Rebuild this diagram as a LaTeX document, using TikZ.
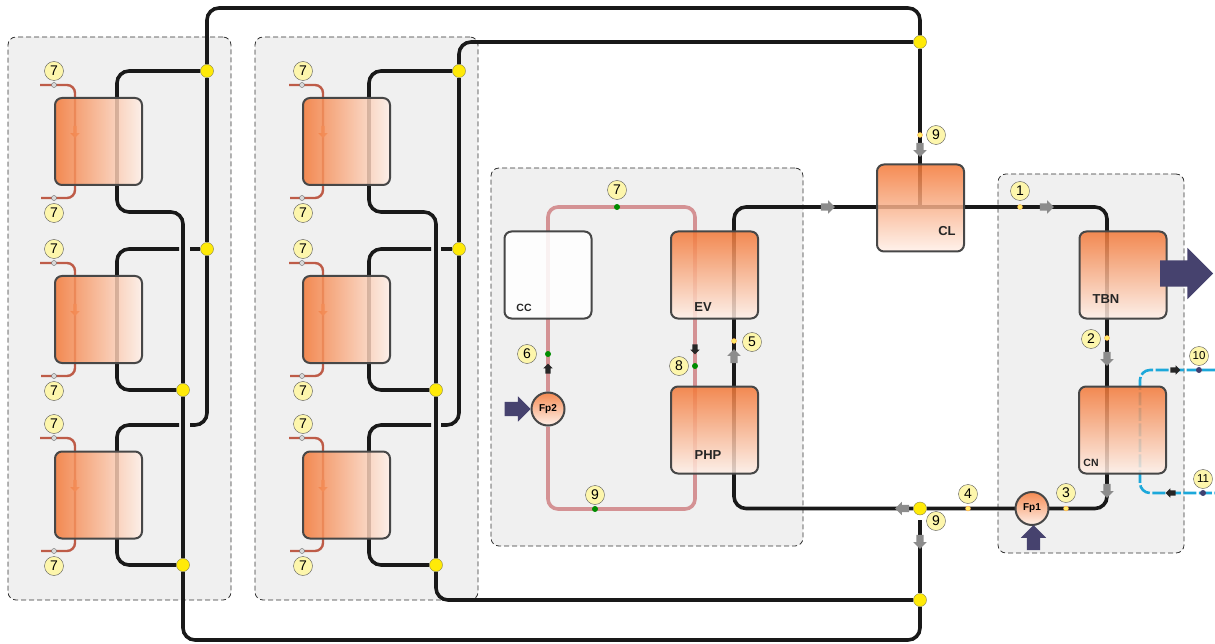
\documentclass[tikz,border=0pt]{standalone}
\usepackage{fontspec}
\setmainfont{Liberation Sans}
\usetikzlibrary{shapes.arrows}
\pgfdeclarelayer{back}
\pgfdeclarelayer{pipes}
\pgfsetlayers{back,pipes,main}
\definecolor{hot}{RGB}{243,118,52}
\definecolor{pale}{RGB}{255,240,232}
\definecolor{tagfill}{RGB}{253,246,172}
\definecolor{power}{RGB}{70,66,110}
\definecolor{coolant}{RGB}{190,92,72}
\definecolor{looprose}{RGB}{212,146,148}
\definecolor{wat}{RGB}{28,168,218}
\definecolor{jny}{RGB}{255,234,8}
\begin{document}
\begin{tikzpicture}[
		x=1pt, y=-1pt,
		grp/.style={rectangle, draw=black!80, fill=black!6, line width=0.8pt, dash pattern=on 5pt off 3pt, rounded corners=8pt},
		hx/.style={rectangle, draw=black!72, line width=2pt, rounded corners=7pt, fill opacity=0.84, text opacity=1, minimum width=87pt, minimum height=87pt},
		hxh/.style={hx, left color=hot, right color=pale},
		hxv/.style={hx, top color=hot, bottom color=pale},
		cc/.style={hx, fill=white, fill opacity=0.88},
		fp/.style={circle, draw=black!72, line width=2pt, top color=hot!85, bottom color=pale, minimum size=33pt, inner sep=0pt, font=\fontsize{10}{10}\selectfont\bfseries},
		jn/.style={circle, draw=black!55!yellow, fill=jny, minimum size=13pt, inner sep=0pt},
		tag/.style={circle, draw=black!65, fill=tagfill, minimum size=19pt, inner sep=0pt, font=\fontsize{14}{14}\selectfont},
		tagb/.style={tag, font=\fontsize{11.5}{11.5}\selectfont},
		sp/.style={circle, draw=orange!70, fill=orange!25!yellow!60, minimum size=5pt, inner sep=0pt},
		gp/.style={circle, fill=green!55!black, minimum size=6pt, inner sep=0pt},
		wp/.style={circle, draw=black!60, fill=white!85!black, minimum size=5pt, inner sep=0pt},
		bp/.style={circle, fill=blue!25!black!75, minimum size=6pt, inner sep=0pt},
		t/.style={inner sep=0pt, font=\fontsize{13}{13}\selectfont\bfseries, text=black!85},
		ts/.style={t, font=\fontsize{10.5}{10.5}\selectfont\bfseries},
		pipe/.style={draw=black!90, line width=3.6pt, rounded corners=12pt},
		cool/.style={draw=coolant, line width=2.4pt, rounded corners=8pt},
		loopl/.style={draw=looprose, line width=3.6pt, rounded corners=10pt},
		water/.style={draw=wat, line width=2.6pt, rounded corners=10pt, dash pattern=on 13pt off 2.5pt},
		ga/.style={single arrow, fill=black!45, draw=none, minimum height=14pt, inner xsep=0pt, inner ysep=3.5pt, single arrow head extend=3pt},
		ka/.style={single arrow, fill=black!85, draw=none, minimum height=10pt, inner xsep=0pt, inner ysep=2.5pt, single arrow head extend=2pt},
		ca/.style={single arrow, fill=hot!80!coolant, draw=none, minimum height=12pt, inner xsep=0pt, inner ysep=1.5pt, single arrow head extend=3pt},
		pw/.style={single arrow, fill=power, draw=none, inner xsep=0pt},
		]
		
		\useasboundingbox (0, 0) rectangle (1215, 644);
		
		%Groups
		\begin{pgfonlayer}{back}
		\node[grp, minimum width=223pt, minimum height=563pt]	(g1)	at	(119.5, 318.5)	{};
		\node[grp, minimum width=223pt, minimum height=563pt]	(g2)	at	(366.5, 318.5)	{};
		\node[grp, minimum width=312pt, minimum height=378pt]	(g3)	at	(647, 357)		{};
		\node[grp, minimum width=186pt, minimum height=379pt]	(g4)	at	(1091, 363.5)	{};
		\end{pgfonlayer}
		
		%Exchangers
		\node[hxh]	(a1)	at	(98.5, 141.5)	{};
		\node[hxh]	(a2)	at	(98.5, 319.5)	{};
		\node[hxh]	(a3)	at	(98.5, 495)		{};
		\node[hxh]	(b1)	at	(346.5, 141.5)	{};
		\node[hxh]	(b2)	at	(346.5, 319.5)	{};
		\node[hxh]	(b3)	at	(346.5, 495)	{};
		\node[cc]	(cc)	at	(548, 275)		{};
		\node[hxv]	(ev)	at	(714.5, 275)	{};
		\node[hxv]	(php)	at	(714.5, 430)	{};
		\node[hxv]	(cl)	at	(920.5, 208)	{};
		\node[hxv]	(tbn)	at	(1123, 275)		{};
		\node[hxv]	(cn)	at	(1122.5, 430)	{};
		\node[ts]	(lcc)	at	(524, 308)		{CC};
		\node[t]	(lev)	at	(703, 307)		{EV};
		\node[t]	(lphp)	at	(708, 455)		{PHP};
		\node[t]	(lcl)	at	(947, 231)		{CL};
		\node[t]	(ltbn)	at	(1106, 299)		{TBN};
		\node[ts]	(lcn)	at	(1091, 463)		{CN};
		
		%Pumps
		\node[fp]	(fp1)	at	(1032, 508.5)	{Fp1};
		\node[fp]	(fp2)	at	(548, 409)		{Fp2};
		
		%Junctions
		\node[jn]	(j1)	at	(207, 71)		{};
		\node[jn]	(j2)	at	(207, 249)		{};
		\node[jn]	(j3)	at	(183, 390)		{};
		\node[jn]	(j4)	at	(183, 565)		{};
		\node[jn]	(j5)	at	(459, 71)		{};
		\node[jn]	(j6)	at	(459, 249)		{};
		\node[jn]	(j7)	at	(436, 390)		{};
		\node[jn]	(j8)	at	(436, 565)		{};
		\node[jn]	(j9)	at	(920, 42)		{};
		\node[jn]	(j10)	at	(920, 600)		{};
		\node[jn]	(j11)	at	(920, 508.5)	{};
		
		%Bends
		\coordinate	(t1)	at	(207, 8);
		\coordinate	(t2)	at	(920, 8);
		\coordinate	(u1)	at	(183, 640);
		\coordinate	(u2)	at	(920, 640);
		\coordinate	(a1t)	at	(117, 71);
		\coordinate	(a1b)	at	(117, 212);
		\coordinate	(a1r)	at	(183, 212);
		\coordinate	(a2g)	at	(179, 249);
		\coordinate	(a2h)	at	(190, 249);
		\coordinate	(a2t)	at	(117, 249);
		\coordinate	(a2b)	at	(117, 390);
		\coordinate	(a3c)	at	(207, 425);
		\coordinate	(a3g)	at	(179, 425);
		\coordinate	(a3h)	at	(190, 425);
		\coordinate	(a3t)	at	(117, 425);
		\coordinate	(a3b)	at	(117, 565);
		\coordinate	(v1)	at	(459, 42);
		\coordinate	(v2)	at	(436, 600);
		\coordinate	(b1t)	at	(369, 71);
		\coordinate	(b1b)	at	(369, 212);
		\coordinate	(b1r)	at	(436, 212);
		\coordinate	(b2g)	at	(431, 249);
		\coordinate	(b2h)	at	(441, 249);
		\coordinate	(b2t)	at	(369, 249);
		\coordinate	(b2b)	at	(369, 390);
		\coordinate	(b3c)	at	(459, 425);
		\coordinate	(b3g)	at	(431, 425);
		\coordinate	(b3h)	at	(441, 425);
		\coordinate	(b3t)	at	(369, 425);
		\coordinate	(b3b)	at	(369, 565);
		\coordinate	(m1)	at	(734, 508.5);
		\coordinate	(m2)	at	(734, 207);
		\coordinate	(m3)	at	(1107, 207);
		\coordinate	(m4)	at	(1107, 508.5);
		\coordinate	(cli)	at	(920, 207);
		\coordinate	(gap)	at	(920, 520);
		\coordinate	(l1)	at	(548, 207);
		\coordinate	(l2)	at	(695, 207);
		\coordinate	(l3)	at	(695, 509);
		\coordinate	(l4)	at	(548, 509);
		\coordinate	(w0)	at	(1215, 370);
		\coordinate	(w1)	at	(1140, 370);
		\coordinate	(w2)	at	(1140, 493);
		\coordinate	(w3)	at	(1215, 493);
		
		\coordinate	(c1s)	at	(40, 85);
		\coordinate	(c1t)	at	(75, 85);
		\coordinate	(c1b)	at	(75, 198);
		\coordinate	(c1e)	at	(41, 198);
		\coordinate	(c2s)	at	(40, 263);
		\coordinate	(c2t)	at	(75, 263);
		\coordinate	(c2b)	at	(75, 376);
		\coordinate	(c2e)	at	(41, 376);
		\coordinate	(c3s)	at	(40, 438);
		\coordinate	(c3t)	at	(75, 438);
		\coordinate	(c3b)	at	(75, 551);
		\coordinate	(c3e)	at	(41, 551);
		\coordinate	(d1s)	at	(289, 85);
		\coordinate	(d1t)	at	(323, 85);
		\coordinate	(d1b)	at	(323, 198);
		\coordinate	(d1e)	at	(290, 198);
		\coordinate	(d2s)	at	(289, 263);
		\coordinate	(d2t)	at	(323, 263);
		\coordinate	(d2b)	at	(323, 376);
		\coordinate	(d2e)	at	(290, 376);
		\coordinate	(d3s)	at	(289, 438);
		\coordinate	(d3t)	at	(323, 438);
		\coordinate	(d3b)	at	(323, 551);
		\coordinate	(d3e)	at	(290, 551);
		
		%Pipes
		\begin{pgfonlayer}{pipes}
		\draw[pipe]	(j1)	--	(t1)	--	(t2)	--	(j9);
		\draw[pipe]	(j1)	--	(j2);
		\draw[pipe]	(j2)	--	(a3c)	--	(a3h);
		\draw[pipe]	(j3)	--	(j4)	--	(u1)	--	(u2)	--	(j10);
		\draw[pipe]	(j1)	--	(a1t)	--	(a1b)	--	(a1r)	--	(j3);
		\draw[pipe]	(j2)	--	(a2h);
		\draw[pipe]	(a2g)	--	(a2t)	--	(a2b)	--	(j3);
		\draw[pipe]	(a3g)	--	(a3t)	--	(a3b)	--	(j4);
		\draw[pipe]	(j5)	--	(v1)	--	(j9);
		\draw[pipe]	(j5)	--	(j6);
		\draw[pipe]	(j6)	--	(b3c)	--	(b3h);
		\draw[pipe]	(j7)	--	(j8)	--	(v2)	--	(j10);
		\draw[pipe]	(j5)	--	(b1t)	--	(b1b)	--	(b1r)	--	(j7);
		\draw[pipe]	(j6)	--	(b2h);
		\draw[pipe]	(b2g)	--	(b2t)	--	(b2b)	--	(j7);
		\draw[pipe]	(b3g)	--	(b3t)	--	(b3b)	--	(j8);
		\draw[pipe]	(j9)	--	(cli);
		\draw[pipe]	(gap)	--	(j10);
		\draw[pipe]	(j11)	--	(m1)	--	(m2)	--	(m3)	--	(m4)	--	(j11);
		\draw[loopl]	(fp2)	--	(l1)	--	(l2)	--	(l3)	--	(l4)	--	(fp2);
		\draw[water]	(w0)	--	(w1)	--	(w2)	--	(w3);
		\draw[cool]	(c1s)	--	(c1t)	--	(c1b)	--	(c1e);
		\draw[cool]	(c2s)	--	(c2t)	--	(c2b)	--	(c2e);
		\draw[cool]	(c3s)	--	(c3t)	--	(c3b)	--	(c3e);
		\draw[cool]	(d1s)	--	(d1t)	--	(d1b)	--	(d1e);
		\draw[cool]	(d2s)	--	(d2t)	--	(d2b)	--	(d2e);
		\draw[cool]	(d3s)	--	(d3t)	--	(d3b)	--	(d3e);
		\node[ca, rotate=-90]	(f1)	at	(75, 131)	{};
		\node[ca, rotate=-90]	(f2)	at	(75, 309)	{};
		\node[ca, rotate=-90]	(f3)	at	(75, 485)	{};
		\node[ca, rotate=-90]	(f4)	at	(323, 131)	{};
		\node[ca, rotate=-90]	(f5)	at	(323, 309)	{};
		\node[ca, rotate=-90]	(f6)	at	(323, 485)	{};
		\end{pgfonlayer}
		
		%Flow arrows
		\node[ga]				(n1)	at	(826, 207)		{};
		\node[ga]				(n2)	at	(1045, 207)		{};
		\node[ga, rotate=-90]	(n3)	at	(920, 148)		{};
		\node[ga, rotate=-90]	(n4)	at	(1107, 357)		{};
		\node[ga, rotate=-90]	(n5)	at	(1107, 489)		{};
		\node[ga, rotate=180]	(n6)	at	(904, 508.5)	{};
		\node[ga, rotate=-90]	(n7)	at	(920, 540)		{};
		\node[ga, rotate=90]	(n8)	at	(734, 358)		{};
		\node[ka, rotate=90]	(n9)	at	(548, 370)		{};
		\node[ka, rotate=-90]	(n10)	at	(695, 348)		{};
		\node[ka]				(n11)	at	(1174, 370)		{};
		\node[ka, rotate=180]	(n12)	at	(1172, 493)		{};
		
		%Power arrows
		\node[pw, minimum height=53pt, inner ysep=13pt, single arrow head extend=12.5pt]	(pt)	at	(1180, 273.5)	{};
		\node[pw, minimum height=26pt, inner ysep=7pt, single arrow head extend=5.5pt]	(p2)	at	(514, 409)	{};
		\node[pw, rotate=90, minimum height=25pt, inner ysep=6.5pt, single arrow head extend=6pt]	(p1)	at	(1033.5, 541)	{};
		
		%Points
		\node[sp]	(s1)	at	(1020, 207)		{};
		\node[sp]	(s2)	at	(1107, 338)		{};
		\node[sp]	(s3)	at	(1066, 508.5)	{};
		\node[sp]	(s4)	at	(968, 508.5)	{};
		\node[sp]	(s5)	at	(734, 341)		{};
		\node[sp]	(s9)	at	(920, 135)		{};
		\node[gp]	(s6)	at	(548, 354)		{};
		\node[gp]	(s7)	at	(617, 207)		{};
		\node[gp]	(s8)	at	(695, 366)		{};
		\node[gp]	(s10)	at	(595, 509)		{};
		\node[bp]	(s11)	at	(1199, 370)		{};
		\node[bp]	(s12)	at	(1203, 493)		{};
		\node[wp]	(q1)	at	(54, 85)		{};
		\node[wp]	(q2)	at	(54, 198)		{};
		\node[wp]	(q3)	at	(54, 263)		{};
		\node[wp]	(q4)	at	(54, 376)		{};
		\node[wp]	(q5)	at	(54, 438)		{};
		\node[wp]	(q6)	at	(54, 551)		{};
		\node[wp]	(r1)	at	(302, 85)		{};
		\node[wp]	(r2)	at	(302, 198)		{};
		\node[wp]	(r3)	at	(302, 263)		{};
		\node[wp]	(r4)	at	(302, 376)		{};
		\node[wp]	(r5)	at	(302, 438)		{};
		\node[wp]	(r6)	at	(302, 551)		{};
		
		%Tags
		\node[tag]	(k1)	at	(1020, 191)		{1};
		\node[tag]	(k2)	at	(1091, 339)		{2};
		\node[tag]	(k3)	at	(1066, 493)		{3};
		\node[tag]	(k4)	at	(968, 494)		{4};
		\node[tag]	(k5)	at	(752, 342)		{5};
		\node[tag]	(k6)	at	(527, 354)		{6};
		\node[tag]	(k7)	at	(617, 190)		{7};
		\node[tag]	(k8)	at	(679, 366)		{8};
		\node[tag]	(k9)	at	(595, 495)		{9};
		\node[tag]	(k9a)	at	(936, 135)		{9};
		\node[tag]	(k9b)	at	(936, 521)		{9};
		\node[tagb]	(k10)	at	(1199, 356)		{10};
		\node[tagb]	(k11)	at	(1203, 479)		{11};
		\node[tag]	(x1)	at	(54, 71)		{7};
		\node[tag]	(x2)	at	(54, 213)		{7};
		\node[tag]	(x3)	at	(54, 249)		{7};
		\node[tag]	(x4)	at	(54, 391)		{7};
		\node[tag]	(x5)	at	(54, 424)		{7};
		\node[tag]	(x6)	at	(54, 566)		{7};
		\node[tag]	(y1)	at	(303, 71)		{7};
		\node[tag]	(y2)	at	(303, 213)		{7};
		\node[tag]	(y3)	at	(303, 249)		{7};
		\node[tag]	(y4)	at	(303, 391)		{7};
		\node[tag]	(y5)	at	(303, 424)		{7};
		\node[tag]	(y6)	at	(303, 566)		{7};
	\end{tikzpicture}
\end{document}
